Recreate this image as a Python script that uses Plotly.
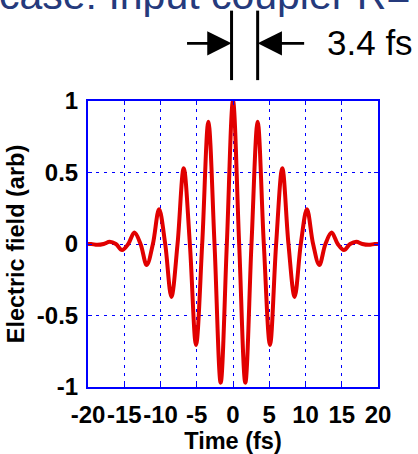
import plotly.graph_objects as go

# Data
time_fs = [-20.0, -19.55, -18.7, -17.85, -17.0, -16.15, -15.3, -14.45, -13.6, -12.75,
           -11.9, -11.05, -10.2, -9.35, -8.5, -7.65, -6.8, -5.95, -5.1, -4.25,
           -3.4, -2.55, -1.7, -0.85, 0.0, 0.85, 1.7, 2.55, 3.4, 4.25,
           5.1, 5.95, 6.8, 7.65, 8.5, 9.35, 10.2, 11.05, 11.9, 12.75,
           13.6, 14.45, 15.3, 16.15, 17.0, 17.85, 18.7, 19.55, 20.0]
field_arb = [0.0, 0.0, -0.006, 0.0, 0.016, 0.0, -0.042, 0.0, 0.08, 0.0,
             -0.147, 0.0, 0.243, 0.0, -0.37, 0.0, 0.53, 0.0, -0.706, 0.0,
             0.855, 0.0, -0.97, 0.0, 1.0, 0.0, -0.97, 0.0, 0.855, 0.0,
             -0.706, 0.0, 0.53, 0.0, -0.37, 0.0, 0.243, 0.0, -0.147, 0.0,
             0.08, 0.0, -0.042, 0.0, 0.016, 0.0, -0.006, 0.0, 0.0]

x_ticks = [-20, -15, -10, -5, 0, 5, 10, 15, 20]
x_tick_labels = ["-20", "-15", "-10", "-5", "0", "5", "10", "15", "20"]
y_ticks = [-1, -0.5, 0, 0.5, 1]
y_tick_labels = ["-1", "-0.5", "0", "0.5", "1"]

title_text = "case: Input coupler R="
width_label = "3.4 fs"
marker_lines = [-0.2, 3.4]

FONT = "Liberation Sans"
BLUE = "#0000ff"
RED = "rgb(225,0,0)"

fig = go.Figure()
fig.add_trace(go.Scatter(
    x=time_fs, y=field_arb, mode="lines",
    line=dict(color=RED, width=4, shape="spline", smoothing=1.0),
    showlegend=False, hoverinfo="skip", cliponaxis=False))

axis_common = dict(
    showgrid=True, gridcolor=BLUE, griddash="3px,5px", gridwidth=1,
    showline=True, linecolor=BLUE, linewidth=2, mirror="ticks",
    ticks="inside", ticklen=4, tickcolor=BLUE, tickwidth=1,
    zeroline=False, automargin=False, tickangle=0,
    tickfont=dict(family=FONT, size=24, color="black", weight="bold"),
)

fig.update_xaxes(range=[-20, 20], tickvals=x_ticks, ticktext=x_tick_labels,
                 ticklabelstandoff=5,
                 title=dict(text="Time (fs)", standoff=8,
                            font=dict(family=FONT, size=23.5, color="black", weight="bold")),
                 **axis_common)
fig.update_yaxes(range=[-1, 1], tickvals=y_ticks, ticktext=y_tick_labels,
                 ticklabelstandoff=3,
                 title=dict(text="Electric field (arb)", standoff=6,
                            font=dict(family=FONT, size=23.5, color="black", weight="bold")),
                 **axis_common)

shapes = []
for xv in marker_lines:
    shapes.append(dict(type="line", xref="x", yref="paper", x0=xv, x1=xv,
                       y0=1.073, y1=1.316, line=dict(color="black", width=3)))

annotations = [
    dict(x=marker_lines[0], y=1.2017, xref="x", yref="paper", ax=-46, ay=0,
         axref="pixel", ayref="pixel", showarrow=True, arrowhead=2, arrowsize=1.8,
         arrowwidth=2.7, arrowcolor="black", standoff=0, text=""),
    dict(x=marker_lines[1], y=1.2017, xref="x", yref="paper", ax=48, ay=0,
         axref="pixel", ayref="pixel", showarrow=True, arrowhead=2, arrowsize=1.8,
         arrowwidth=2.7, arrowcolor="black", standoff=0, text=""),
    dict(x=(325 - 88) / 290, y=1.206, xref="paper", yref="paper", xanchor="left",
         yanchor="middle", showarrow=False, text=width_label,
         font=dict(family=FONT, size=35, color="black")),
    dict(x=-0.315, y=1.371, xref="paper", yref="paper", xanchor="left",
         yanchor="middle", showarrow=False, text=title_text,
         font=dict(family=FONT, size=41, color="#253a7c")),
]

fig.update_layout(
    width=418, height=454, autosize=False,
    margin=dict(l=88, r=40, t=101, b=67, pad=0),
    paper_bgcolor="white", plot_bgcolor="white",
    shapes=shapes, annotations=annotations,
)

fig.write_html("out.html")
